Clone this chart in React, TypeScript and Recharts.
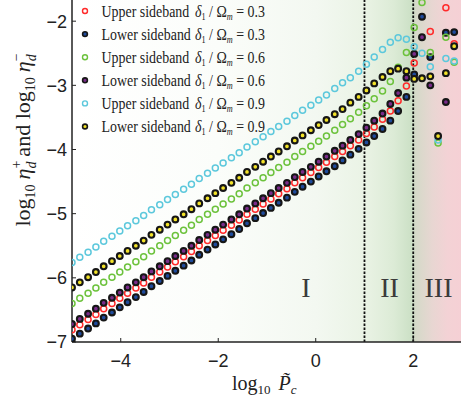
import { ScatterChart, Scatter, XAxis, YAxis, ReferenceArea, ReferenceLine } from "recharts";

// log10 of the normalised control power, one entry per simulated point
const logPc = [
  -5.0, -4.84, -4.67, -4.51, -4.35, -4.18, -4.02, -3.86, -3.69, -3.53,
  -3.37, -3.2, -3.04, -2.88, -2.71, -2.55, -2.39, -2.22, -2.06, -1.9,
  -1.73, -1.57, -1.41, -1.24, -1.08, -0.92, -0.76, -0.59, -0.43, -0.27,
  -0.1, 0.06, 0.22, 0.39, 0.55, 0.71, 0.88, 1.04, 1.2, 1.37,
  1.53, 1.69, 1.86, 2.02, 2.18, 2.35, 2.51, 2.67, 2.84,
];

// log10 efficiency per sideband and detuning ratio (null = off scale)
const upper03: (number | null)[] = [
  -6.81, -6.73, -6.65, -6.57, -6.48, -6.4, -6.32, -6.24, -6.16, -6.08,
  -5.99, -5.91, -5.83, -5.75, -5.67, -5.59, -5.5, -5.42, -5.34, -5.26,
  -5.18, -5.1, -5.01, -4.93, -4.85, -4.77, -4.69, -4.61, -4.52, -4.44,
  -4.36, -4.28, -4.2, -4.11, -4.03, -3.94, -3.85, -3.75, -3.65, -3.53,
  -3.4, -3.24, -3.01, -2.65, null, -2.16, null, -1.79, -2.35,
];
const lower03: (number | null)[] = [
  -6.95, -6.87, -6.79, -6.71, -6.62, -6.54, -6.46, -6.38, -6.3, -6.22,
  -6.13, -6.05, -5.97, -5.89, -5.81, -5.73, -5.64, -5.56, -5.48, -5.4,
  -5.32, -5.24, -5.15, -5.07, -4.99, -4.91, -4.83, -4.75, -4.66, -4.58,
  -4.5, -4.42, -4.34, -4.26, -4.17, -4.08, -3.99, -3.89, -3.79, -3.68,
  -3.55, -3.4, -3.18, -2.83, -1.93, -2.56, null, -2.18, -2.17,
];
const upper06: (number | null)[] = [
  -6.4, -6.32, -6.24, -6.16, -6.07, -5.99, -5.91, -5.83, -5.75, -5.67,
  -5.58, -5.5, -5.42, -5.34, -5.26, -5.18, -5.09, -5.01, -4.93, -4.85,
  -4.77, -4.69, -4.6, -4.52, -4.44, -4.36, -4.28, -4.2, -4.11, -4.03,
  -3.95, -3.87, -3.79, -3.7, -3.61, -3.52, -3.42, -3.32, -3.21, -3.09,
  -2.94, -2.72, -2.49, -2.1, -1.71, -2.49, -3.9, -2.25, -2.64,
];
const lower06: (number | null)[] = [
  -6.72, -6.64, -6.56, -6.48, -6.39, -6.31, -6.23, -6.15, -6.07, -5.99,
  -5.9, -5.82, -5.74, -5.66, -5.58, -5.5, -5.41, -5.33, -5.25, -5.17,
  -5.09, -5.01, -4.92, -4.84, -4.76, -4.68, -4.6, -4.52, -4.43, -4.35,
  -4.27, -4.19, -4.11, -4.02, -3.94, -3.85, -3.76, -3.66, -3.55, -3.44,
  -3.29, -3.12, -2.88, -2.51, -2.25, -3.0, null, -3.26, null,
];
const upper09: (number | null)[] = [
  -5.76, -5.68, -5.6, -5.52, -5.43, -5.35, -5.27, -5.19, -5.11, -5.03,
  -4.94, -4.86, -4.78, -4.7, -4.62, -4.54, -4.45, -4.37, -4.29, -4.21,
  -4.13, -4.05, -3.96, -3.88, -3.8, -3.72, -3.64, -3.56, -3.47, -3.39,
  -3.31, -3.23, -3.15, -3.05, -2.96, -2.88, -2.78, -2.67, -2.56, -2.44,
  -2.33, -2.26, -2.28, -2.4, -2.5, -2.71, -3.85, -2.58, -2.62,
];
const lower09: (number | null)[] = [
  -6.15, -6.07, -5.99, -5.91, -5.82, -5.74, -5.66, -5.58, -5.5, -5.42,
  -5.33, -5.25, -5.17, -5.09, -5.01, -4.93, -4.84, -4.76, -4.68, -4.6,
  -4.52, -4.44, -4.35, -4.27, -4.19, -4.11, -4.03, -3.95, -3.86, -3.78,
  -3.7, -3.62, -3.54, -3.45, -3.37, -3.27, -3.18, -3.08, -2.97, -2.87,
  -2.78, -2.74, -2.78, -2.9, -2.89, -2.86, -3.79, -2.81, -2.39,
];

const xTicks = [-4, -2, 0, 2];
const yTicks = [-7, -6, -5, -4, -3, -2];
const regionBounds = [1, 2];
const regionNames = ["I", "II", "III"];

const X_MIN = -5;
const X_MAX = 2.98;
const Y_MIN = -7;
const Y_MAX = -1.67;

type Series = {
  key: string;
  label: string;
  ratio: string;
  values: (number | null)[];
  color: string;
  open: boolean;
};

const series: Series[] = [
  { key: "u03", label: "Upper sideband", ratio: "0.3", values: upper03, color: "#ff2a2a", open: true },
  { key: "l03", label: "Lower sideband", ratio: "0.3", values: lower03, color: "#1f4b9c", open: false },
  { key: "u06", label: "Upper sideband", ratio: "0.6", values: upper06, color: "#6cc23c", open: true },
  { key: "l06", label: "Lower sideband", ratio: "0.6", values: lower06, color: "#7a2c8a", open: false },
  { key: "u09", label: "Upper sideband", ratio: "0.9", values: upper09, color: "#5cc8dc", open: true },
  { key: "l09", label: "Lower sideband", ratio: "0.9", values: lower09, color: "#f2e22a", open: false },
];

const toPoints = (vals: (number | null)[]) =>
  logPc
    .map((x, i) => ({ x, y: vals[i] }))
    .filter((p) => p.y !== null);

const fmtTick = (v: number) => (v < 0 ? `\u2212${Math.abs(v)}` : `${v}`);

const serif = "'Liberation Serif', 'Times New Roman', serif";
const sans = "'Liberation Sans', Arial, sans-serif";

function markerShape(s: Series) {
  return (props: any) => {
    const { cx, cy } = props;
    if (cx == null || cy == null) return <g />;
    return s.open ? (
      <circle cx={cx} cy={cy} r={3.0} fill="none" stroke={s.color} strokeWidth={1.5} />
    ) : (
      <circle cx={cx} cy={cy} r={2.9} fill={s.color} stroke="#161616" strokeWidth={2.1} />
    );
  };
}

// white -> green over regions I/II, grey-pink over region III
function Backdrop(props: any) {
  const { x, y, width, height } = props;
  return (
    <g>
      <defs>
        <linearGradient id="regionShade" x1="0" y1="0" x2="1" y2="0">
          <stop offset="0" stopColor="#ffffff" />
          <stop offset="0.376" stopColor="#fbfdfa" />
          <stop offset="0.627" stopColor="#f3f8f1" />
          <stop offset="0.752" stopColor="#eaf3e5" />
          <stop offset="0.827" stopColor="#dcebd6" />
          <stop offset="0.875" stopColor="#cbe0c5" />
          <stop offset="0.882" stopColor="#d4dac8" />
          <stop offset="0.927" stopColor="#e8d6d2" />
          <stop offset="0.965" stopColor="#f3d2d5" />
          <stop offset="1" stopColor="#f5d0d5" />
        </linearGradient>
      </defs>
      <rect x={x} y={y} width={width} height={height} fill="url(#regionShade)" />
    </g>
  );
}

function Overlay() {
  return (
    <svg
      width={461}
      height={402}
      style={{ position: "absolute", left: 0, top: 0, pointerEvents: "none" }}
    >
      {/* legend: narrow serif lettering */}
      {series.map((s, i) => {
        const cy = 11 + i * 23.1;
        return (
          <g key={s.key}>
            {s.open ? (
              <circle cx={85} cy={cy} r={2.5} fill="none" stroke={s.color} strokeWidth={1.4} />
            ) : (
              <circle cx={85} cy={cy} r={2.4} fill={s.color} stroke="#161616" strokeWidth={1.6} />
            )}
            <g transform={`translate(101.5, ${cy + 5.5}) scale(0.82, 1)`}>
              <text x={0} y={0} fontFamily={serif} fontSize={17} fill="#222">
                {s.label}
              </text>
              <text x={114} y={0} fontFamily={serif} fontSize={17} fill="#222">
                <tspan fontStyle="italic">δ</tspan>
                <tspan fontSize={10} dy={3}>1</tspan>
                <tspan dy={-3}> / Ω</tspan>
                <tspan fontSize={10} fontStyle="italic" dy={3}>m</tspan>
                <tspan dy={-3}> = {s.ratio}</tspan>
              </text>
            </g>
          </g>
        );
      })}

      {/* region numerals */}
      {regionNames.map((r, i) => (
        <text
          key={r}
          x={[306, 389.5, 438.5][i]}
          y={297}
          textAnchor="middle"
          fontFamily={serif}
          fontSize={28}
          fill="#3a3a3a"
        >
          {r}
        </text>
      ))}

      {/* x title */}
      <text x={232} y={390} fontFamily={serif} fontSize={20} fill="#222">
        log
        <tspan fontSize={13} dy={4}>10</tspan>
        <tspan dy={-4} dx={8} fontStyle="italic">{"P\u0303"}</tspan>
        <tspan fontSize={13} fontStyle="italic" dy={4}>c</tspan>
      </text>

      {/* y title */}
      <text
        transform="translate(30,140) rotate(-90)"
        textAnchor="middle"
        fontFamily={serif}
        fontSize={22}
        fill="#222"
      >
        log
        <tspan fontSize={14} dy={5}>10</tspan>
        <tspan dy={-5} dx={5} fontStyle="italic">η</tspan>
        <tspan fontSize={14} fontStyle="italic" dy={6}>d</tspan>
        <tspan fontSize={14} dx={-7} dy={-15}>+</tspan>
        <tspan dy={9} dx={4}>and log</tspan>
        <tspan fontSize={14} dy={5}>10</tspan>
        <tspan dy={-5} dx={5} fontStyle="italic">η</tspan>
        <tspan fontSize={14} fontStyle="italic" dy={6}>d</tspan>
        <tspan fontSize={14} dx={-7} dy={-15}>−</tspan>
      </text>
    </svg>
  );
}

export default function App() {
  return (
    <div style={{ position: "absolute", left: 0, top: 0, width: 461, height: 402, background: "#fff" }}>
      <ScatterChart width={461} height={402} margin={{ top: 0, right: 0, bottom: 0, left: 0 }}>
        <XAxis
          type="number"
          dataKey="x"
          domain={[X_MIN, X_MAX]}
          allowDataOverflow
          ticks={xTicks}
          tickFormatter={fmtTick}
          height={60}
          tickSize={-4}
          tickMargin={16}
          axisLine={{ stroke: "#222", strokeWidth: 1.5 }}
          tickLine={{ stroke: "#222" }}
          tick={{ fill: "#222", fontSize: 18, fontFamily: sans }}
        />
        <YAxis
          type="number"
          dataKey="y"
          domain={[Y_MIN, Y_MAX]}
          allowDataOverflow
          ticks={yTicks}
          tickFormatter={fmtTick}
          width={72}
          tickSize={-4}
          tickMargin={9}
          axisLine={{ stroke: "#222", strokeWidth: 1.5 }}
          tickLine={{ stroke: "#222" }}
          tick={{ fill: "#222", fontSize: 18, fontFamily: sans }}
        />
        <YAxis
          yAxisId="right"
          orientation="right"
          type="number"
          domain={[Y_MIN, Y_MAX]}
          allowDataOverflow
          ticks={yTicks}
          tickFormatter={() => ""}
          width={0}
          tickSize={-4}
          axisLine={false}
          tickLine={{ stroke: "#222" }}
        />
        <ReferenceArea x1={X_MIN} x2={X_MAX} y1={Y_MIN} y2={Y_MAX} shape={Backdrop} />
        {regionBounds.map((b) => (
          <ReferenceLine key={b} x={b} stroke="#111" strokeWidth={1.8} strokeDasharray="2.5 1.5" />
        ))}
        {series.map((s) => (
          <Scatter
            key={s.key}
            name={s.key}
            data={toPoints(s.values)}
            shape={markerShape(s)}
            isAnimationActive={false}
          />
        ))}
      </ScatterChart>
      <Overlay />
    </div>
  );
}
